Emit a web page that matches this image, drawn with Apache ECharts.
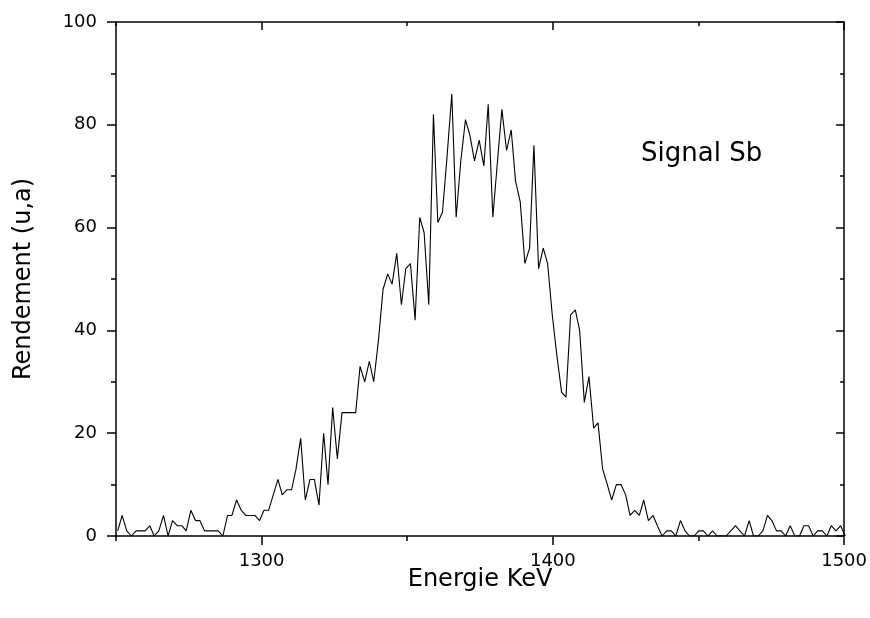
<!DOCTYPE html>
<html>
<head>
<meta charset="utf-8">
<script src="https://cdn.jsdelivr.net/npm/echarts@6/dist/echarts.min.js"></script>
<style>
html,body{margin:0;padding:0;background:#fff;}
#chart{width:870px;height:618px;}
</style>
</head>
<body>
<div id="chart"></div>
<script>
const energies = [
1250.6,1252.1,1253.7,1255.3,1256.9,1258.4,1260.0,1261.6,1263.1,1264.7,
1266.3,1267.9,1269.4,1271.0,1272.6,1274.1,1275.7,1277.3,1278.8,1280.4,
1282.0,1283.6,1285.1,1286.7,1288.3,1289.8,1291.4,1293.0,1294.6,1296.1,
1297.7,1299.3,1300.8,1302.4,1304.0,1305.6,1307.1,1308.7,1310.3,1311.8,
1313.4,1315.0,1316.6,1318.1,1319.7,1321.3,1322.8,1324.4,1326.0,1327.6,
1329.1,1330.7,1332.3,1333.8,1335.4,1337.0,1338.5,1340.1,1341.7,1343.3,
1344.8,1346.4,1348.0,1349.5,1351.1,1352.7,1354.3,1355.8,1357.4,1359.0,
1360.5,1362.1,1363.7,1365.3,1366.8,1368.4,1370.0,1371.5,1373.1,1374.7,
1376.3,1377.8,1379.4,1381.0,1382.5,1384.1,1385.7,1387.2,1388.8,1390.4,
1392.0,1393.5,1395.1,1396.7,1398.2,1399.8,1401.4,1403.0,1404.5,1406.1,
1407.7,1409.2,1410.8,1412.4,1414.0,1415.5,1417.1,1418.7,1420.2,1421.8,
1423.4,1425.0,1426.5,1428.1,1429.7,1431.2,1432.8,1434.4,1435.9,1437.5,
1439.1,1440.7,1442.2,1443.8,1445.4,1446.9,1448.5,1450.1,1451.7,1453.2,
1454.8,1456.4,1457.9,1459.5,1461.1,1462.7,1464.2,1465.8,1467.4,1468.9,
1470.5,1472.1,1473.7,1475.2,1476.8,1478.4,1479.9,1481.5,1483.1,1484.7,
1486.2,1487.8,1489.4,1490.9,1492.5,1494.1,1495.6,1497.2,1498.8,1500.4
];
const rendement = [
1,4,1,0,1,1,1,2,0,1,
4,0,3,2,2,1,5,3,3,1,
1,1,1,0,4,4,7,5,4,4,
4,3,5,5,8,11,8,9,9,13,
19,7,11,11,6,20,10,25,15,24,
24,24,24,33,30,34,30,38,48,51,
49,55,45,52,53,42,62,59,45,82,
61,63,74,86,62,73,81,78,73,77,
72,84,62,73,83,75,79,69,65,53,
56,76,52,56,53,43,35,28,27,43,
44,40,26,31,21,22,13,10,7,10,
10,8,4,5,4,7,3,4,2,0,
1,1,0,3,1,0,0,1,1,0,
1,0,0,0,1,2,1,0,3,0,
0,1,4,3,1,1,0,2,0,0,
2,2,0,1,1,0,2,1,2,0
];
const xMajorTicks = [1300, 1400, 1500];
const xMinorTicks = [1250, 1350, 1450];
const yTickLabels = [0, 20, 40, 60, 80, 100];

const FONT = 'DejaVu Sans';
const chart = echarts.init(document.getElementById('chart'), null, {renderer: 'canvas'});
const axisLineStyle = {color: '#000', width: 1.5};
const plain = v => String(v);

const option = {
  animation: false,
  backgroundColor: '#fff',
  grid: {left: 116, right: 25, top: 22, bottom: 82, containLabel: false},
  xAxis: [
    {
      type: 'value', position: 'bottom', min: 1250, max: 1500,
      name: 'Energie KeV', nameLocation: 'middle', nameGap: 32, nameMoveOverlap: false,
      nameTextStyle: {fontFamily: FONT, fontSize: 24, color: '#000'},
      axisLine: {show: true, onZero: false, lineStyle: axisLineStyle},
      axisTick: {show: true, inside: false, length: 9, customValues: xMajorTicks, lineStyle: {color: '#000', width: 1.5}},
      axisLabel: {show: true, customValues: xMajorTicks, formatter: plain, margin: 16, fontFamily: FONT, fontSize: 18, color: '#000'},
      splitLine: {show: false}
    },
    {
      type: 'value', position: 'bottom', min: 1250, max: 1500,
      axisLine: {show: false, onZero: false},
      axisTick: {show: true, inside: false, length: 5, customValues: xMinorTicks, lineStyle: {color: '#000', width: 1.5}},
      axisLabel: {show: false}, splitLine: {show: false}
    },
    {
      type: 'value', position: 'top', min: 1250, max: 1500,
      axisLine: {show: true, onZero: false, lineStyle: axisLineStyle},
      axisTick: {show: true, inside: true, length: 8, customValues: xMajorTicks, lineStyle: {color: '#000', width: 1.5}},
      axisLabel: {show: false}, splitLine: {show: false}
    },
    {
      type: 'value', position: 'top', min: 1250, max: 1500,
      axisLine: {show: false, onZero: false},
      axisTick: {show: true, inside: true, length: 4, customValues: xMinorTicks, lineStyle: {color: '#000', width: 1.5}},
      axisLabel: {show: false}, splitLine: {show: false}
    }
  ],
  yAxis: [
    {
      type: 'value', position: 'left', min: 0, max: 100, interval: 20,
      name: 'Rendement (u,a)', nameLocation: 'middle', nameGap: 80, nameRotate: 90, nameMoveOverlap: false,
      nameTextStyle: {fontFamily: FONT, fontSize: 24, color: '#000'},
      axisLine: {show: true, onZero: false, lineStyle: axisLineStyle},
      axisTick: {show: true, inside: false, length: 9, lineStyle: {color: '#000', width: 1.5}},
      minorTick: {show: true, splitNumber: 2, length: 5, lineStyle: {color: '#000', width: 1.5}},
      axisLabel: {show: true, customValues: yTickLabels, formatter: plain, margin: 19, fontFamily: FONT, fontSize: 18, color: '#000'},
      splitLine: {show: false}, minorSplitLine: {show: false}
    },
    {
      type: 'value', position: 'right', min: 0, max: 100, interval: 20,
      axisLine: {show: true, onZero: false, lineStyle: axisLineStyle},
      axisTick: {show: true, inside: true, length: 8, lineStyle: {color: '#000', width: 1.5}},
      minorTick: {show: true, splitNumber: 2, length: 4, lineStyle: {color: '#000', width: 1.5}},
      axisLabel: {show: false},
      splitLine: {show: false}, minorSplitLine: {show: false}
    }
  ],
  graphic: [
    {type: 'text', left: 641, top: 141, style: {text: 'Signal Sb', fontFamily: FONT, fontSize: 26, fill: '#000'}}
  ],
  series: [
    {
      type: 'line',
      xAxisIndex: 0, yAxisIndex: 0,
      data: energies.map((e, i) => [e, rendement[i]]),
      showSymbol: false, symbol: 'none', smooth: false, clip: true,
      lineStyle: {color: '#000', width: 1.1},
      silent: true
    }
  ]
};
chart.setOption(option);
</script>
</body>
</html>
